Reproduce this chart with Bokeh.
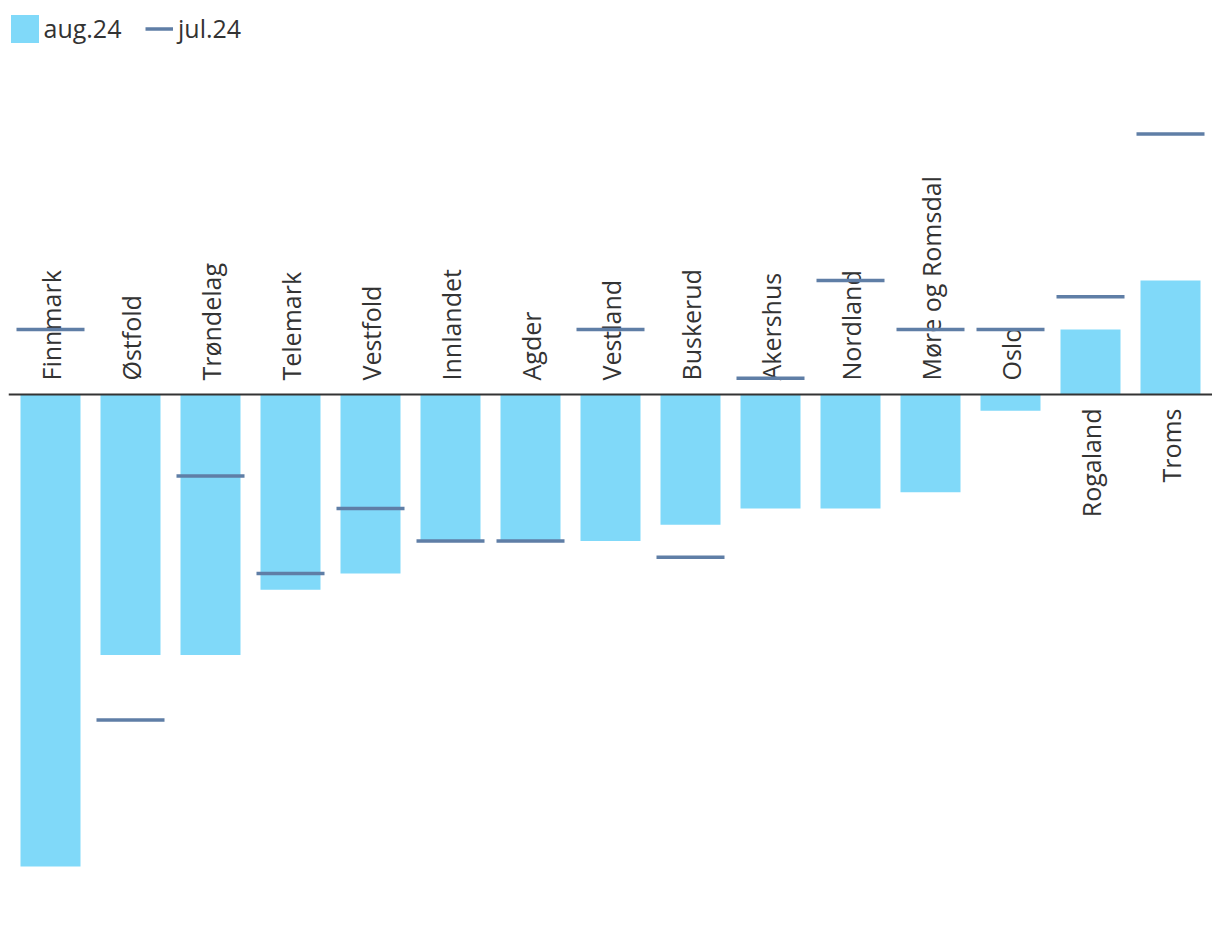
import math
from bokeh.plotting import figure
from bokeh.models import ColumnDataSource, Legend, LegendItem, Range1d, Span
from bokeh.core.properties import value
from bokeh.embed import file_html
from bokeh.resources import INLINE

categories = ["Finnmark", "Østfold", "Trøndelag", "Telemark", "Vestfold", "Innlandet",
              "Agder", "Vestland", "Buskerud", "Akershus", "Nordland", "Møre og Romsdal",
              "Oslo", "Rogaland", "Troms"]
aug24 = [-29, -16, -16, -12, -11, -9, -9, -9, -8, -7, -7, -6, -1, 4, 7]
jul24 = [4, -20, -5, -11, -7, -9, -9, 4, -10, 1, 7, 4, 4, 6, 16]

BAR_COLOR = "#80d9f9"
LINE_COLOR = "#5f7ea6"
TEXT_COLOR = "#333333"
FONT = "Open Sans"

PX_PER_UNIT = 16.28
OFF = 8
W, H = 1212, 926
baseline_px = 394 - OFF
frame_h = H - OFF
y_top = baseline_px / PX_PER_UNIT
y_bot = y_top - frame_h / PX_PER_UNIT

n = len(categories)
xs = [i + 0.5 for i in range(n)]
lab_off = 14 / PX_PER_UNIT

src = ColumnDataSource(dict(
    x=xs, cat=categories, aug=aug24, jul=jul24,
    x0=[x - 0.425 for x in xs], x1=[x + 0.425 for x in xs],
    ly=[(-lab_off if v > 0 else lab_off) for v in aug24],
    align=[("right" if v > 0 else "left") for v in aug24],
))

p = figure(width=W, height=H, output_backend="svg", toolbar_location=None,
           x_range=Range1d(-0.025, n + 0.025), y_range=Range1d(y_bot, y_top),
           min_border_left=OFF, min_border_right=0, min_border_top=OFF, min_border_bottom=0)
p.axis.visible = False
p.grid.visible = False
p.outline_line_color = None
p.background_fill_color = "white"

bars = p.vbar(x="x", top="aug", bottom=0, width=0.75, source=src,
              fill_color=BAR_COLOR, line_color=None)

p.add_layout(Span(location=0, dimension="width", line_color="#333333", line_width=2))

p.text(x="x", y="ly", text="cat", source=src, angle=math.pi / 2,
       text_align="align", text_baseline="middle",
       text_font=value(FONT), text_font_size="25px", text_color=TEXT_COLOR)

segs = p.segment(x0="x0", y0="jul", x1="x1", y1="jul", source=src,
                 line_color=LINE_COLOR, line_width=3.5)

leg_y = frame_h - 37.5
common = dict(orientation="horizontal", padding=0, margin=0, border_line_color=None,
              background_fill_alpha=0, label_text_font=FONT, label_text_font_size="25px",
              label_text_color=TEXT_COLOR, glyph_height=35)
leg1 = Legend(items=[LegendItem(label="aug.24", renderers=[bars])],
              location=(-1.5, leg_y), glyph_width=35, label_standoff=2, **common)
leg2 = Legend(items=[LegendItem(label="jul.24", renderers=[segs])],
              location=(137, leg_y), glyph_width=28, label_standoff=5, **common)
p.add_layout(leg1)
p.add_layout(leg2)

open("out.html", "w").write(file_html(p, INLINE))
